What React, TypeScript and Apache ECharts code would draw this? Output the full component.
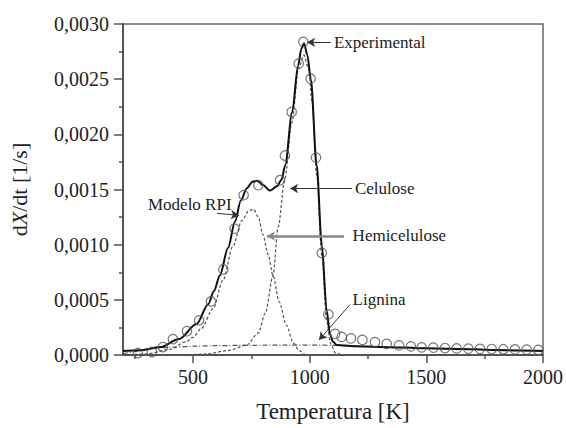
import React, { useEffect, useRef } from "react";
import * as echarts from "echarts";

// ---- data ----
const expX = [264, 324, 371, 414, 474, 526, 577, 630, 678, 717, 780, 873, 894, 923, 953, 973, 1004, 1027, 1052, 1080, 1109, 1137, 1177, 1226, 1280, 1330, 1383, 1434, 1480, 1530, 1580, 1630, 1680, 1730, 1780, 1830, 1880, 1930, 1980];
const expY = [0.000018, 0.000027, 0.000072, 0.000144, 0.000216, 0.000314, 0.000485, 0.000775, 0.001145, 0.001449, 0.001539, 0.001584, 0.001808, 0.002203, 0.002641, 0.002838, 0.002504, 0.001789, 0.000925, 0.000368, 0.000191, 0.000164, 0.00015, 0.000137, 0.000117, 0.000101, 0.000087, 0.000078, 0.000069, 0.000066, 0.000063, 0.00006, 0.000058, 0.000056, 0.000054, 0.000052, 0.00005, 0.000048, 0.000046];

const modelX = [200, 270, 360, 440, 515, 565, 590, 615, 650, 680, 705, 730, 755, 775, 800, 830, 860, 880, 895, 925, 950, 965, 976, 990, 1005, 1030, 1052, 1073, 1087, 1100, 1116, 1150, 1200, 1300, 1400, 1500, 1600, 1700, 1800, 1900, 2000];
const modelY = [0.000036, 0.000042, 0.000072, 0.000145, 0.00028, 0.00046, 0.00058, 0.00072, 0.00097, 0.00121, 0.0014, 0.00151, 0.00157, 0.00158, 0.00154, 0.00149, 0.00153, 0.00159, 0.00172, 0.0022, 0.00262, 0.00278, 0.002825, 0.00272, 0.0025, 0.00172, 0.001, 0.0004, 0.00019, 0.00012, 0.00009, 0.000085, 0.00008, 0.000073, 0.000067, 0.000061, 0.000056, 0.000051, 0.000046, 0.000041, 0.000037];

const hemiX = [250, 300, 400, 471, 500, 536, 586, 629, 670, 710, 740, 760, 780, 800, 822, 843, 870, 900, 930, 955, 980];
const hemiY = [0.000005, 0.00001, 0.00005, 0.00012, 0.00016, 0.00024, 0.00042, 0.00068, 0.00098, 0.00122, 0.00131, 0.00132, 0.00125, 0.00109, 0.00091, 0.00072, 0.00048, 0.00027, 0.00011, 0.00004, 0];

const celX = [480, 560, 650, 730, 780, 810, 843, 865, 894, 923, 953, 975, 995, 1010, 1030, 1052, 1073, 1090, 1110, 1135];
const celY = [0, 0.00001, 0.00004, 0.00009, 0.0002, 0.00038, 0.00072, 0.00116, 0.0016, 0.0021, 0.0026, 0.00272, 0.0026, 0.0023, 0.00163, 0.0009, 0.00031, 0.0001, 0.00002, 0];

const ligX = [200, 250, 314, 400, 500, 600, 750, 900, 1000, 1100, 1200, 1300, 1400, 1500, 1600, 1700, 1800, 1900, 2000];
const ligY = [0.00001, 0.00003, 0.000057, 0.00007, 0.00008, 0.000085, 0.000088, 0.00009, 0.00009, 0.000088, 0.00008, 0.000073, 0.000067, 0.000061, 0.000056, 0.000051, 0.000046, 0.000041, 0.000037];

const xTicks = [500, 1000, 1500, 2000];
const xMinorTicks = [250, 750, 1250, 1750];

const annotationTexts = ["Experimental", "Celulose", "Hemicelulose", "Modelo RPI", "Lignina"];
const annotationAt: [number, number][] = [[1104, 0.002834], [1194, 0.001509], [1184, 0.001082], [307, 0.001365], [1184, 0.000506]];
const arrowFrom: [number, number][] = [[1091, 0.002834], [1181, 0.001509], [1147, 0.001078], [603, 0.001284], [1173, 0.000458]];
const arrowTo: [number, number][] = [[989, 0.002834], [916, 0.001509], [817, 0.001078], [697, 0.001266], [1040, 0.000135]];

const zip = (xs: number[], ys: number[]) => xs.map((x, i) => [x, ys[i]]);

const FONT = "Liberation Serif";

export default function App() {
  const ref = useRef<HTMLDivElement>(null);
  useEffect(() => {
    document.body.style.margin = "0";
    if (!ref.current) return;
    const chart = echarts.init(ref.current, undefined, { renderer: "svg" });
    const dashed = { color: "#555", width: 1.2, type: [3, 2] as any };
    chart.setOption({
      animation: false,
      backgroundColor: "#fff",
      textStyle: { fontFamily: FONT },
      grid: { left: 123, right: 23, top: 24, bottom: 70, show: true, borderColor: "#666", borderWidth: 1.5, backgroundColor: "transparent" },
      xAxis: [
        {
          type: "value", min: 200, max: 2000,
          name: "Temperatura [K]", nameLocation: "middle", nameGap: 45,
          nameTextStyle: { fontFamily: FONT, fontSize: 23, color: "#222" },
          axisLine: { show: true, lineStyle: { color: "#555", width: 2 } },
          axisTick: { show: true, length: 8, customValues: xTicks, lineStyle: { color: "#555", width: 1.5 } },
          axisLabel: { customValues: xTicks, fontFamily: FONT, fontSize: 20, color: "#222", margin: 12, formatter: (v: number) => String(v) },
          splitLine: { show: false },
        },
        {
          type: "value", min: 200, max: 2000, position: "bottom",
          axisLine: { show: false },
          axisTick: { show: true, length: 4, customValues: xMinorTicks, lineStyle: { color: "#555", width: 1.5 } },
          axisLabel: { show: false },
          splitLine: { show: false },
        },
      ],
      yAxis: {
        type: "value", min: 0, max: 0.003, interval: 0.0005,
        name: "d{i|X}/dt [1/s]", nameLocation: "middle", nameGap: 93,
        nameTextStyle: {
          fontFamily: FONT, fontSize: 22, color: "#222",
          rich: { i: { fontFamily: FONT, fontSize: 22, fontStyle: "italic", color: "#222" } },
        },
        axisLine: { show: true, lineStyle: { color: "#555", width: 2 } },
        axisTick: { show: true, length: 9, lineStyle: { color: "#555", width: 1.5 } },
        minorTick: { show: true, splitNumber: 2, length: 4, lineStyle: { color: "#555", width: 1.5 } },
        axisLabel: {
          fontFamily: FONT, fontSize: 20, color: "#222", margin: 14,
          formatter: (v: number) => v.toFixed(4).replace(".", ","),
        },
        splitLine: { show: false },
      },
      series: [
        {
          name: "Lignina", type: "line", data: zip(ligX, ligY), showSymbol: false, smooth: 0.3, smoothMonotone: "x",
          lineStyle: { color: "#555", width: 1.2, type: [5, 2, 1, 2] }, z: 2,
        },
        { name: "Hemicelulose", type: "line", data: zip(hemiX, hemiY), showSymbol: false, smooth: 0.3, smoothMonotone: "x", lineStyle: dashed, z: 2 },
        { name: "Celulose", type: "line", data: zip(celX, celY), showSymbol: false, smooth: 0.3, smoothMonotone: "x", lineStyle: dashed, z: 2 },
        {
          name: "Modelo RPI", type: "line", data: zip(modelX, modelY), showSymbol: false, smooth: 0.3, smoothMonotone: "x",
          lineStyle: { color: "#111", width: 2 }, z: 3,
          markLine: {
            silent: true, animation: false, symbolSize: [7, 8],
            label: { show: false },
            data: arrowFrom.map((f, i) => [
              { coord: f, symbol: "none", lineStyle: i === 2 ? { color: "#888", width: 2.5, type: "solid" } : { color: "#333", width: 1, type: "solid" } },
              { coord: arrowTo[i], symbol: "arrow" },
            ]),
          },
          markPoint: {
            silent: true, animation: false, symbol: "circle", symbolSize: 0,
            data: annotationAt.map((c, i) => ({
              coord: c,
              label: { show: true, position: "right", distance: 0, formatter: annotationTexts[i], fontFamily: FONT, fontSize: 17, color: "#222" },
            })),
          },
        },
        {
          name: "Experimental", type: "scatter", data: zip(expX, expY), symbol: "circle", symbolSize: 9.5,
          itemStyle: { color: "rgba(255,255,255,0)", borderColor: "#555", borderWidth: 1.2 }, z: 4,
        },
      ],
    });
    return () => chart.dispose();
  }, []);
  return <div ref={ref} style={{ width: 566, height: 428 }} />;
}
